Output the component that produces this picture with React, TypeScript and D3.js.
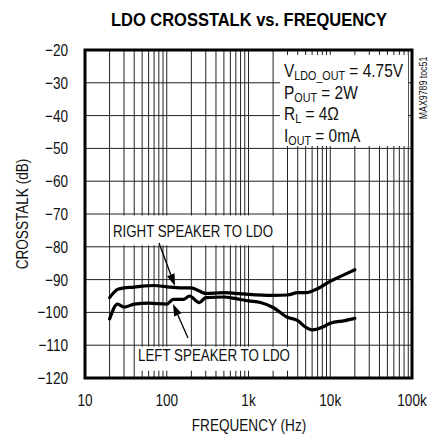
import React from "react";
import * as d3 from "d3";

const rightFreq = [20, 25, 30, 40, 50, 70, 100, 150, 200, 250, 300, 500, 700, 1000, 2000, 3000, 4000, 5000, 6000, 7000, 10000, 14000, 20000];
const rightDb = [-95.5, -93, -92.5, -92.3, -92, -91.8, -92.2, -92.5, -92.5, -93.5, -94.2, -94, -94.2, -94.5, -94.8, -94.7, -94, -94, -93.5, -92.8, -90.5, -88.8, -87];

const leftFreq = [20, 25, 30, 40, 60, 100, 120, 160, 190, 250, 300, 500, 700, 1000, 1400, 2000, 3000, 4000, 5000, 6000, 8000, 10000, 15000, 20000];
const leftDb = [-102, -97.5, -98.4, -97.5, -97.2, -97.5, -96, -96, -95, -97, -95.5, -95.3, -95.8, -96.5, -97, -98.5, -101.5, -102.5, -104.5, -105.3, -104.5, -103.3, -102.5, -101.8];

const yTicks = [-20, -30, -40, -50, -60, -70, -80, -90, -100, -110, -120];
const xTickVals = [10, 100, 1000, 10000, 100000];
const xTickLabels = ["10", "100", "1k", "10k", "100k"];

const FONT = "'Liberation Sans', Arial, sans-serif";

function N(props: { x: number; y: number; size?: number; anchor?: string; children: React.ReactNode; rot?: number; sx?: number }) {
  const { x, y, size = 17, anchor = "start", children, rot = 0, sx = 0.8 } = props;
  return (
    <text transform={`translate(${x},${y}) rotate(${rot}) scale(${sx},1)`} fontSize={size} textAnchor={anchor} fill="#111">
      {children}
    </text>
  );
}

export default function App() {
  const W = 431, H = 436;
  const L = 85, R = 412, T = 50, B = 378;
  const x = d3.scaleLog().domain([10, 100000]).range([L, R]);
  const y = d3.scaleLinear().domain([-120, -20]).range([B, T]);

  const minor: number[] = [];
  for (let d = 10; d < 100000; d *= 10) {
    for (let k = 1; k <= 9; k++) minor.push(d * k);
  }
  minor.push(100000);

  const line = d3.line<[number, number]>().x(d => x(d[0])).y(d => y(d[1])).curve(d3.curveMonotoneX);
  const rightPts = rightFreq.map((f, i) => [f, rightDb[i]] as [number, number]);
  const leftPts = leftFreq.map((f, i) => [f, leftDb[i]] as [number, number]);

  const arrow = (x1: number, y1: number, x2: number, y2: number) => {
    const ang = Math.atan2(y2 - y1, x2 - x1);
    const len = 12, w = 4;
    const bx = x2 - len * Math.cos(ang), by = y2 - len * Math.sin(ang);
    const px = -Math.sin(ang) * w, py = Math.cos(ang) * w;
    return (
      <g>
        <line x1={x1} y1={y1} x2={bx} y2={by} stroke="#000" strokeWidth={1.3} />
        <polygon points={`${x2},${y2} ${bx + px},${by + py} ${bx - px},${by - py}`} fill="#000" />
      </g>
    );
  };

  const sub = 12.5;
  const bsx = 0.86;

  return (
    <svg width={W} height={H} style={{ position: "absolute", left: 0, top: 0, background: "#fff" }} fontFamily={FONT}>
      <rect x={0} y={0} width={W} height={H} fill="#fff" />
      <text x={249} y={26} textAnchor="middle" fontSize={18} fontWeight="bold" textLength={276} lengthAdjust="spacingAndGlyphs" fontFamily="'Liberation Sans', 'DejaVu Sans', sans-serif">LDO CROSSTALK vs. FREQUENCY</text>

      {/* grid */}
      {minor.map((f, i) => (
        <line key={"v" + i} x1={x(f)} x2={x(f)} y1={T} y2={B} stroke="#222" strokeWidth={1} />
      ))}
      {yTicks.map((t, i) => (
        <line key={"h" + i} x1={L} x2={R} y1={y(t)} y2={y(t)} stroke="#222" strokeWidth={1} />
      ))}

      {/* label boxes */}
      <rect x={280} y={55} width={128} height={91} fill="#fff" />
      <rect x={110} y={y(-70) + 1.5} width={167} height={y(-80) - y(-70) - 3} fill="#fff" />
      <rect x={135} y={y(-110) + 1.5} width={155} height={24} fill="#fff" />

      {/* border */}
      <rect x={L} y={T} width={R - L} height={B - T} fill="none" stroke="#000" strokeWidth={3} />

      {/* curves */}
      <path d={line(rightPts) || ""} fill="none" stroke="#000" strokeWidth={3.2} strokeLinejoin="round" strokeLinecap="round" />
      <path d={line(leftPts) || ""} fill="none" stroke="#000" strokeWidth={3.2} strokeLinejoin="round" strokeLinecap="round" />

      {/* arrows */}
      {arrow(159, 243, 175, 286)}
      {arrow(188, 338, 173, 304)}

      {/* annotation text */}
      <text x={193} y={237} textAnchor="middle" fontSize={17} textLength={160} lengthAdjust="spacingAndGlyphs" fill="#111">RIGHT SPEAKER TO LDO</text>
      <text x={214} y={361} textAnchor="middle" fontSize={17} textLength={152} lengthAdjust="spacingAndGlyphs" fill="#111">LEFT SPEAKER TO LDO</text>

      <N x={284} y={77} size={18} sx={bsx}>V<tspan fontSize={sub} dy={3}>LDO_OUT</tspan><tspan dy={-3}> = 4.75V</tspan></N>
      <N x={284} y={99} size={18} sx={bsx}>P<tspan fontSize={sub} dy={3}>OUT</tspan><tspan dy={-3}> = 2W</tspan></N>
      <N x={284} y={120} size={18} sx={bsx}>R<tspan fontSize={sub} dy={3}>L</tspan><tspan dy={-3}> = 4Ω</tspan></N>
      <N x={284} y={142} size={18} sx={bsx}>I<tspan fontSize={sub} dy={3}>OUT</tspan><tspan dy={-3}> = 0mA</tspan></N>

      <N x={427} y={88} size={11} anchor="middle" rot={-90}>MAX9789 toc51</N>

      {/* y ticks */}
      {yTicks.map((t, i) => (
        <N key={"yl" + i} x={68} y={y(t) + 6} anchor="end">{String(t).replace("-", "\u2212")}</N>
      ))}
      {xTickVals.map((v, i) => (
        <N key={"xl" + i} x={x(v)} y={406} anchor="middle">{xTickLabels[i]}</N>
      ))}
      <N x={249} y={431} anchor="middle">FREQUENCY (Hz)</N>
      <N x={28} y={(T + B) / 2} anchor="middle" rot={-90}>CROSSTALK (dB)</N>
    </svg>
  );
}
